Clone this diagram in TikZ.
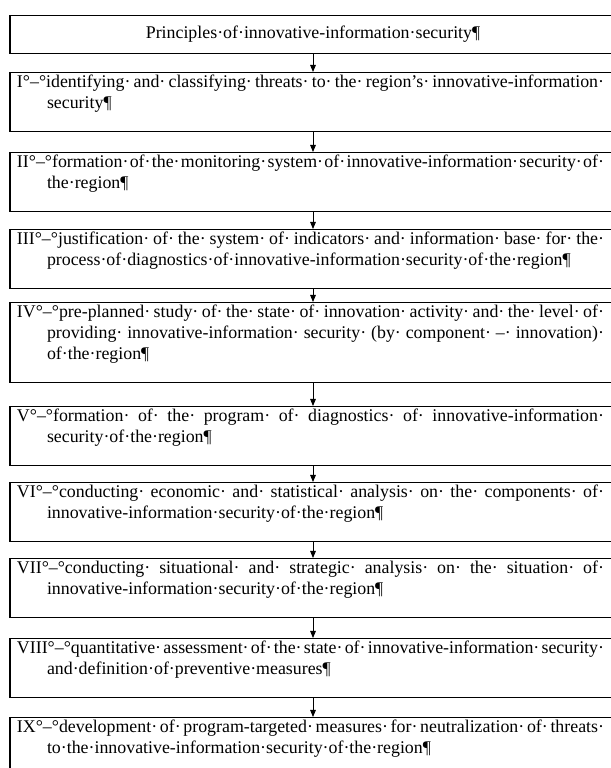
\documentclass[tikz,border=0pt]{standalone}
\usepackage{fontspec}
\setmainfont{Liberation Serif}
\usetikzlibrary{arrows.meta, positioning}

% text of one stage: hanging indent, justified, stretch after the dots only
\newcommand{\stagetext}[1]{\leavevmode\hangindent=0.75cm\hangafter=1\rightskip=0.125cm\spaceskip=0pt plus 8pt\xspaceskip=0pt plus 8pt\hyphenpenalty=10000\exhyphenpenalty=10000\tolerance=10000\relax\strut #1\rule[-16pt]{0pt}{16pt}\par}

\begin{document}
\begin{tikzpicture}[
    stage/.style={draw, line width=0.8pt, anchor=north, inner xsep=0.175cm, inner ysep=0.3pt, text width=14.8cm, align=justify, font=\fontsize{12.7}{14.8}\selectfont},
    heading/.style={draw, line width=0.8pt, anchor=north, minimum width=15.15cm, minimum height=0.95cm, align=center, font=\fontsize{12.7}{14.8}\selectfont},
    >={Triangle[length=5pt, width=4pt]},
]
    \useasboundingbox (0,0) rectangle (15.275,-19.2);

    % Heading
    \node[heading] (p0) at (7.825, -0.375) {Principles·of·innovative-information·security¶};

    % Stages
    \node[stage] (p1) at (7.825, -1.8) {\stagetext{I°–°identifying· and· classifying· threats· to· the· region's· innovative-information·\linebreak security¶}};
    \node[stage] (p2) at (7.825, -3.8) {\stagetext{II°–°formation· of· the· monitoring· system· of· innovative-information· security· of·\linebreak the· region¶}};
    \node[stage] (p3) at (7.825, -5.725) {\stagetext{III°–°justification· of· the· system· of· indicators· and· information· base· for· the·\linebreak process· of· diagnostics· of· innovative-information· security· of· the· region¶}};
    \node[stage] (p4) at (7.825, -7.55) {\stagetext{IV°–°pre-planned· study· of· the· state· of· innovation· activity· and· the· level· of·\linebreak providing· innovative-information· security· (by· component· –· innovation)·\linebreak of· the· region¶}};
    \node[stage] (p5) at (7.825, -10.15) {\stagetext{V°–°formation· of· the· program· of· diagnostics· of· innovative-information·\linebreak security· of· the· region¶}};
    \node[stage] (p6) at (7.825, -12.05) {\stagetext{VI°–°conducting· economic· and· statistical· analysis· on· the· components· of·\linebreak innovative-information· security· of· the· region¶}};
    \node[stage] (p7) at (7.825, -13.95) {\stagetext{VII°–°conducting· situational· and· strategic· analysis· on· the· situation· of·\linebreak innovative-information· security· of· the· region¶}};
    \node[stage] (p8) at (7.825, -15.95) {\stagetext{VIII°–°quantitative· assessment· of· the· state· of· innovative-information· security·\linebreak and· definition· of· preventive· measures¶}};
    \node[stage] (p9) at (7.825, -17.925) {\stagetext{IX°–°development· of· program-targeted· measures· for· neutralization· of· threats·\linebreak to· the· innovative-information· security· of· the· region¶}};

    % Arrows
    \foreach \a/\b in {p0/p1, p1/p2, p2/p3, p3/p4, p4/p5, p5/p6, p6/p7, p7/p8, p8/p9}
        \draw[->, line width=0.6pt] (\a) -- (\b);
\end{tikzpicture}
\end{document}
